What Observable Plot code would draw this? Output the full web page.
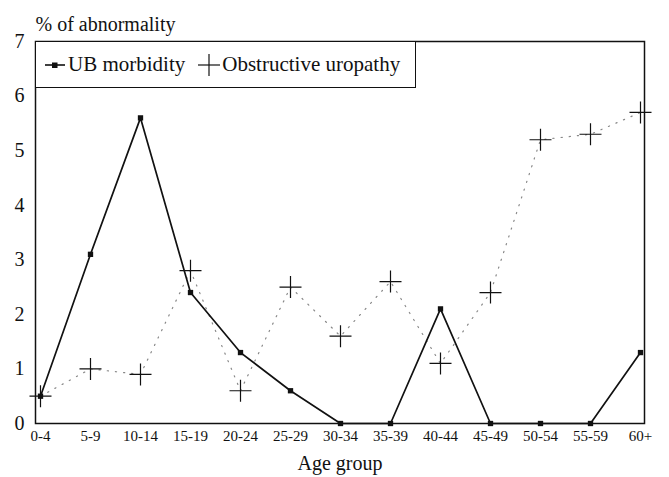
<!DOCTYPE html>
<html>
<head>
<meta charset="utf-8">
<script src="https://cdn.jsdelivr.net/npm/d3@7"></script>
<script src="https://cdn.jsdelivr.net/npm/@observablehq/plot@0.6"></script>
<style>
  body { margin: 0; background: #fff; }
  #wrap { position: relative; width: 669px; height: 477px; font-family: 'Liberation Serif', 'Times New Roman', serif; }
  #legend { position: absolute; left: 35px; top: 41px; width: 381px; height: 47px; border: 1.5px solid #111; background: #fff;
            display: flex; align-items: center; font-size: 21px; color: #111; box-sizing: border-box; padding-left: 8px;
            font-family: 'Liberation Serif', 'Times New Roman', serif; }
  #legend svg { vertical-align: middle; }
  #chart svg text { font-family: 'Liberation Serif', 'Times New Roman', serif; }
</style>
</head>
<body>
<div id="wrap">
  <div id="chart"></div>
  <div id="legend">
    <svg width="22" height="20"><line x1="1" y1="10" x2="21" y2="10" stroke="#111" stroke-width="1.6"/><rect x="8" y="7.5" width="5.5" height="5.5" fill="#111"/></svg>
    <span style="margin-left:2px">UB morbidity</span>
    <svg width="24" height="24" style="margin-left:12px"><line x1="1" y1="12" x2="23" y2="12" stroke="#111" stroke-width="1.2"/><line x1="12" y1="1" x2="12" y2="23" stroke="#111" stroke-width="1.2"/></svg>
    <span style="margin-left:1px">Obstructive uropathy</span>
  </div>
</div>
<script>
const ageGroups = ["0-4","5-9","10-14","15-19","20-24","25-29","30-34","35-39","40-44","45-49","50-54","55-59","60+"];
const ubMorbidity = [0.5, 3.1, 5.6, 2.4, 1.3, 0.6, 0, 0, 2.1, 0, 0, 0, 1.3];
const obstructiveUropathy = [0.5, 1.0, 0.9, 2.8, 0.6, 2.5, 1.6, 2.6, 1.1, 2.4, 5.2, 5.3, 5.7];
const yTicks = [0, 1, 2, 3, 4, 5, 6, 7];
const yLabel = "% of abnormality";
const xLabel = "Age group";

const ub = ageGroups.map((g, i) => ({group: g, value: ubMorbidity[i]}));
const ob = ageGroups.map((g, i) => ({group: g, value: obstructiveUropathy[i]}));

const plusSymbol = {
  draw(context, size) {
    const r = Math.sqrt(size / Math.PI);
    context.moveTo(-r, 0); context.lineTo(r, 0);
    context.moveTo(0, -r); context.lineTo(0, r);
  }
};

const serif = "'Liberation Serif', 'Times New Roman', serif";

const chart = Plot.plot({
  width: 669,
  height: 477,
  marginLeft: 35,
  marginRight: 25,
  marginTop: 41,
  marginBottom: 54,
  style: {fontFamily: serif, color: "#111", background: "#fff"},
  x: {type: "point", domain: ageGroups, padding: 0},
  y: {domain: [0, 7]},
  marks: [
    Plot.frame({stroke: "#111", strokeWidth: 1.5}),
    Plot.axisY({ticks: yTicks, tickSize: 0, tickPadding: 11, fontSize: 20, label: null, tickFormat: d => d}),
    Plot.axisX({tickSize: 0, tickPadding: 7, fontSize: 15, label: xLabel, labelAnchor: "center", labelArrow: "none", labelOffset: 46}),
    Plot.line(ob, {x: "group", y: "value", stroke: "#888", strokeWidth: 1.2, strokeDasharray: "1.2,7"}),
    Plot.line(ub, {x: "group", y: "value", stroke: "#111", strokeWidth: 1.7}),
    Plot.dot(ob, {x: "group", y: "value", symbol: plusSymbol, r: 11, stroke: "#111", strokeWidth: 1.2, fill: "none"}),
    Plot.dot(ub, {x: "group", y: "value", symbol: "square", r: 3, fill: "#111", stroke: "none"}),
    Plot.text([yLabel], {frameAnchor: "top-left", dx: 0, dy: -25, textAnchor: "start", fontSize: 20, fill: "#111"})
  ]
});
chart.querySelectorAll("g[aria-label='x-axis label']").forEach(e => e.setAttribute("font-size", "20"));
chart.querySelectorAll("g[aria-label='x-axis label'] text").forEach(e => e.setAttribute("font-size", "20"));
document.getElementById("chart").appendChild(chart);
</script>
</body>
</html>
